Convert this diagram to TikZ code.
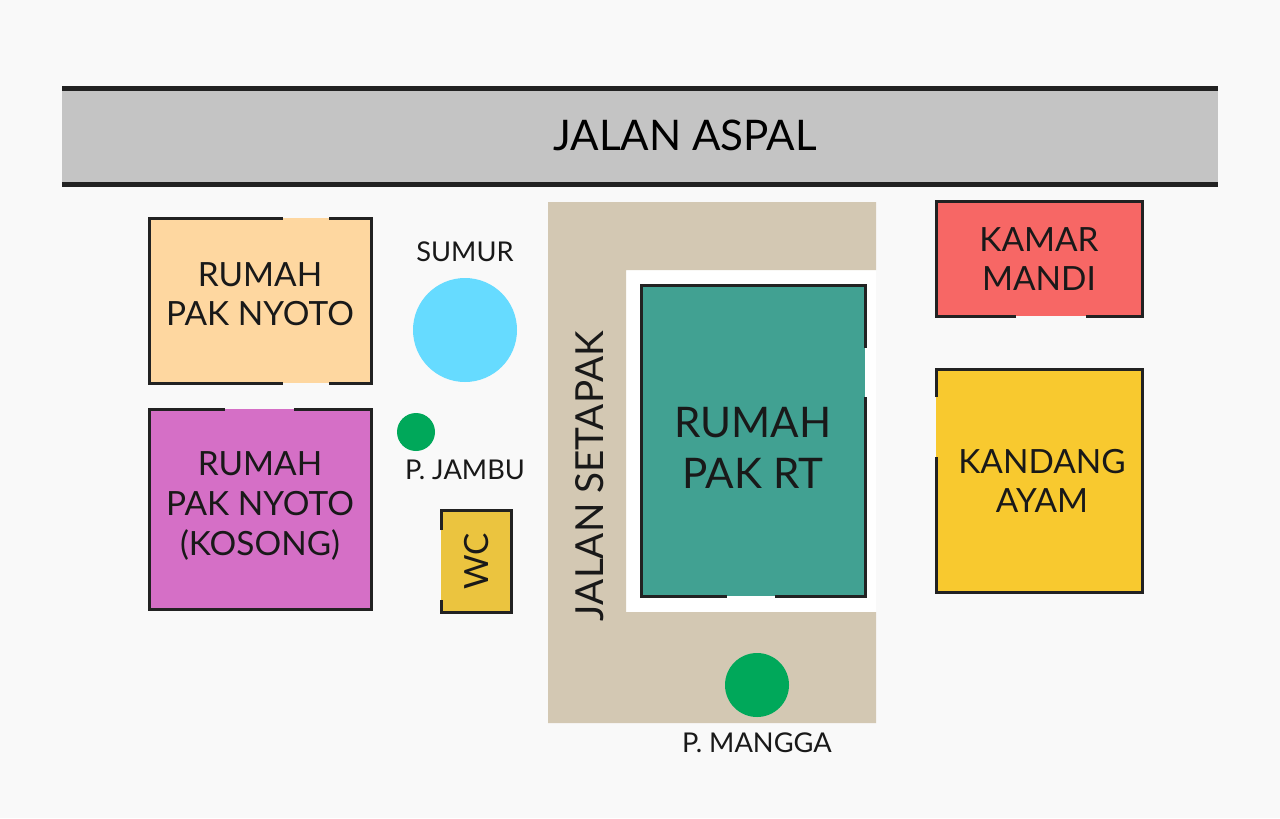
\documentclass[tikz,border=0pt]{standalone}
\usepackage{fontspec}
\setmainfont{Lato}
\definecolor{bg}{HTML}{F9F9F9}
\definecolor{road}{HTML}{C4C4C4}
\definecolor{path}{HTML}{D3C8B3}
\definecolor{nyoto}{HTML}{FED7A0}
\definecolor{kosong}{HTML}{D56FC6}
\definecolor{sumur}{HTML}{66DBFF}
\definecolor{tree}{HTML}{00A85A}
\definecolor{wc}{HTML}{EBC43F}
\definecolor{rt}{HTML}{41A192}
\definecolor{kamar}{HTML}{F76765}
\definecolor{kandang}{HTML}{F8C92F}
\definecolor{wall}{HTML}{222222}
\tikzset{x=0.02cm,y=-0.02cm,
  wallline/.style={draw=wall,line width=0.06cm},
  lbl/.style={font=\fontsize{19}{22.5}\selectfont,align=center,text=black!90},
  small/.style={font=\fontsize{15.5}{18}\selectfont,text=black!90}}
\begin{document}
\begin{tikzpicture}
\fill[bg] (0,0) rectangle (1280,818);
\useasboundingbox (0,0) rectangle (1280,818);
% road
\fill[road] (62,88) rectangle (1218,184);
\draw[line width=0.1cm,wall] (62,88) -- (1218,88) (62,184) -- (1218,184);
\node[font=\fontsize{24}{28}\selectfont] (aspal) at (685,135) {JALAN ASPAL};
% footpath
\fill[white] (626,270) rectangle (876,612);
\fill[path] (548,202) -- (876,202) -- (876,270) -- (626,270) -- (626,612) -- (876,612) -- (876,723) -- (548,723) -- cycle;
\node[lbl,rotate=90,font=\fontsize{22}{26}\selectfont] (setapak) at (590,476) {JALAN SETAPAK};
% Rumah Pak Nyoto
\fill[nyoto] (149,218) rectangle (371,383);
\draw[wallline] (283,218) -- (149,218) -- (149,383) -- (283,383)
  (329,383) -- (371,383) -- (371,218) -- (329,218);
\node[lbl] (nyoto) at (260,294) {RUMAH\\PAK NYOTO};
% Kosong
\fill[kosong] (149,409) rectangle (371,609);
\draw[wallline] (225,409) -- (149,409) -- (149,609) -- (371,609) -- (371,409) -- (294,409);
\node[lbl] (kosong) at (260,506) {RUMAH\\PAK NYOTO\\(KOSONG)};
% Sumur
\fill[sumur] (465,330) circle (52);
\node[small] (sumurl) at (465,252) {SUMUR};
% Jambu
\fill[tree] (416,432) circle (19);
\node[small] (jambu) at (465,470) {P. JAMBU};
% WC
\fill[wc] (441,510) rectangle (511,612);
\draw[wallline] (441,530) -- (441,510) -- (511,510) -- (511,612) -- (441,612) -- (441,600);
\node[lbl,rotate=90] (wcl) at (477,561) {WC};
% Rumah Pak RT
\fill[rt] (641,285) rectangle (865,596);
\draw[wallline] (865,348) -- (865,285) -- (641,285) -- (641,596) -- (727,596)
  (775,596) -- (865,596) -- (865,397);
\node[lbl,font=\fontsize{24}{29}\selectfont] (rtl) at (753,448) {RUMAH\\PAK RT};
% P. Mangga
\fill[tree] (757,685) circle (32);
\node[small] (mangga) at (757,743) {P. MANGGA};
% Kamar Mandi
\fill[kamar] (936,201) rectangle (1142,316);
\draw[wallline] (1016,316) -- (936,316) -- (936,201) -- (1142,201) -- (1142,316) -- (1086,316);
\node[lbl] (kamarl) at (1039,259) {KAMAR\\MANDI};
% Kandang
\fill[kandang] (936,369) rectangle (1142,592);
\draw[wallline] (936,397) -- (936,369) -- (1142,369) -- (1142,592) -- (936,592) -- (936,457);
\node[lbl] (kandangl) at (1042,481) {KANDANG\\AYAM};
\end{tikzpicture}
\end{document}
